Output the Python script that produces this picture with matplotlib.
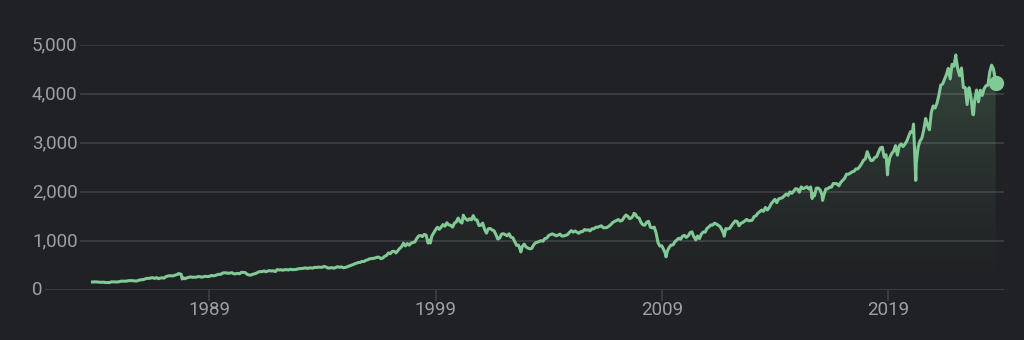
import numpy as np
import matplotlib
matplotlib.use('Agg')
import matplotlib.pyplot as plt
from matplotlib.colors import LinearSegmentedColormap
from matplotlib.transforms import blended_transform_factory

# S&P 500 month-end closes, Oct 1983 .. Sep 2023
first_year, first_month = 1983, 10
monthly_close = [
    163.6, 166.4, 164.9,
    163.4, 157.1, 159.2, 160.1, 150.6, 153.2, 150.7, 166.7, 166.1, 166.1, 163.6, 167.2,
    179.6, 181.2, 180.7, 179.8, 189.6, 191.9, 190.9, 188.6, 182.1, 189.8, 202.2, 211.3,
    211.8, 226.9, 238.9, 235.5, 247.4, 250.8, 236.1, 252.9, 231.3, 244.0, 249.2, 242.2,
    274.1, 284.2, 291.7, 288.4, 290.1, 304.0, 318.7, 329.8, 321.8, 251.8, 230.3, 247.1,
    257.1, 267.8, 258.9, 261.3, 262.2, 273.5, 272.0, 261.5, 271.9, 279.0, 273.7, 277.7,
    297.5, 288.9, 294.9, 309.6, 320.5, 318.0, 346.1, 351.5, 349.2, 340.4, 346.0, 353.4,
    329.1, 331.9, 339.9, 330.8, 361.2, 358.0, 356.2, 322.6, 306.1, 304.0, 322.2, 330.2,
    343.9, 367.1, 375.2, 375.3, 389.8, 371.2, 387.8, 395.4, 387.9, 392.5, 375.2, 417.1,
    408.8, 412.7, 403.7, 414.9, 415.4, 408.1, 424.2, 414.0, 417.8, 418.7, 431.4, 435.7,
    438.8, 443.4, 451.7, 440.2, 450.2, 450.5, 448.1, 463.6, 458.9, 467.8, 461.8, 466.5,
    481.6, 467.1, 445.8, 450.9, 456.5, 444.3, 458.3, 475.5, 462.7, 472.4, 453.7, 459.3,
    470.4, 487.4, 500.7, 514.7, 533.4, 544.8, 562.1, 561.9, 584.4, 581.5, 605.4, 615.9,
    636.0, 640.4, 645.5, 654.2, 669.1, 670.6, 640.0, 652.0, 687.3, 705.3, 757.0, 740.7,
    786.2, 790.8, 757.1, 801.3, 848.3, 885.1, 954.3, 899.5, 947.3, 914.6, 955.4, 970.4,
    980.3, 1049.3, 1101.8, 1111.8, 1090.8, 1133.8, 1120.7, 957.3, 1017.0, 1098.7, 1163.6, 1229.2,
    1279.6, 1238.3, 1286.4, 1335.2, 1301.8, 1372.7, 1328.7, 1320.4, 1282.7, 1362.9, 1388.9, 1469.3,
    1394.5, 1366.4, 1498.6, 1452.4, 1420.6, 1454.6, 1430.8, 1517.7, 1436.5, 1429.4, 1315.2, 1320.3,
    1366.0, 1239.9, 1160.3, 1249.5, 1255.8, 1224.4, 1211.2, 1133.6, 1040.9, 1059.8, 1139.5, 1148.1,
    1130.2, 1106.7, 1147.4, 1076.9, 1067.1, 989.8, 911.6, 916.1, 815.3, 885.8, 936.3, 879.8,
    855.7, 841.2, 848.2, 916.9, 963.6, 974.5, 990.3, 1008.0, 996.0, 1050.7, 1058.2, 1111.9,
    1131.1, 1144.9, 1126.2, 1107.3, 1120.7, 1140.8, 1101.7, 1104.2, 1114.6, 1130.2, 1173.8, 1211.9,
    1181.3, 1203.6, 1180.6, 1156.9, 1191.5, 1191.3, 1234.2, 1220.3, 1228.8, 1207.0, 1249.5, 1248.3,
    1280.1, 1280.7, 1294.9, 1310.6, 1270.1, 1270.2, 1276.7, 1303.8, 1335.9, 1377.9, 1400.6, 1418.3,
    1438.2, 1406.8, 1420.9, 1482.4, 1530.6, 1503.4, 1455.3, 1474.0, 1526.8, 1549.4, 1481.1, 1468.4,
    1378.6, 1330.6, 1322.7, 1385.6, 1400.4, 1280.0, 1267.4, 1282.8, 1166.4, 968.8, 896.2, 903.3,
    825.9, 735.1, 797.9, 872.8, 919.1, 919.3, 987.5, 1020.6, 1057.1, 1036.2, 1095.6, 1115.1,
    1073.9, 1104.5, 1169.4, 1186.7, 1089.4, 1030.7, 1101.6, 1049.3, 1141.2, 1183.3, 1180.6, 1257.6,
    1286.1, 1327.2, 1325.8, 1363.6, 1345.2, 1320.6, 1292.3, 1218.9, 1131.4, 1253.3, 1247.0, 1257.6,
    1312.4, 1365.7, 1408.5, 1397.9, 1310.3, 1362.2, 1379.3, 1406.6, 1440.7, 1412.2, 1416.2, 1426.2,
    1498.1, 1514.7, 1569.2, 1597.6, 1630.7, 1606.3, 1685.7, 1633.0, 1681.6, 1756.5, 1805.8, 1848.4,
    1782.6, 1859.5, 1872.3, 1884.0, 1923.6, 1960.2, 1930.7, 2003.4, 1972.3, 2018.1, 2067.6, 2058.9,
    1995.0, 2104.5, 2067.9, 2085.5, 2107.4, 2063.1, 2103.8, 1972.2, 1920.0, 2079.4, 2080.4, 2043.9,
    1940.2, 1932.2, 2059.7, 2065.3, 2097.0, 2098.9, 2173.6, 2171.0, 2168.3, 2126.2, 2198.8, 2238.8,
    2278.9, 2363.6, 2362.7, 2384.2, 2411.8, 2423.4, 2470.3, 2471.7, 2519.4, 2575.3, 2647.6, 2673.6,
    2823.8, 2713.8, 2640.9, 2648.1, 2705.3, 2718.4, 2816.3, 2901.5, 2914.0, 2711.7, 2760.2, 2506.9,
    2704.1, 2784.5, 2834.4, 2945.8, 2752.1, 2941.8, 2980.4, 2926.5, 2976.7, 3037.6, 3141.0, 3230.8,
    3225.5, 2954.2, 2584.6, 2912.4, 3044.3, 3100.3, 3271.1, 3500.3, 3363.0, 3270.0, 3621.6, 3756.1,
    3714.2, 3811.2, 3972.9, 4181.2, 4204.1, 4297.5, 4395.3, 4522.7, 4307.5, 4605.4, 4567.0, 4766.2,
    4515.6, 4373.9, 4530.4, 4131.9, 4132.2, 3785.4, 4130.3, 3955.0, 3585.6, 3872.0, 4080.1, 3839.5,
    4076.6, 3970.2, 4109.3, 4169.5, 4179.8, 4450.4, 4589.0, 4507.7, 4288.1,
]

# intra-month highs/lows worth showing (decimal year, close)
extreme_dates = [1987.65, 1987.80, 1998.77, 2000.23, 2002.77, 2007.77, 2009.19,
                 2010.50, 2011.76, 2015.65, 2016.11, 2018.98, 2020.13, 2020.23,
                 2022.00, 2022.78, 2023.76]
extreme_values = [336.8, 224.8, 959.4, 1527.5, 776.8, 1565.2, 676.5,
                  1022.6, 1099.2, 1867.6, 1829.1, 2351.1, 3386.2, 2237.4,
                  4796.6, 3577.0, 4229.5]

y_ticks = [0, 1000, 2000, 3000, 4000, 5000]
y_tick_labels = ['0', '1,000', '2,000', '3,000', '4,000', '5,000']
x_ticks = [1989, 1999, 2009, 2019]

BG = '#202124'
GRID = '#3c4043'
TEXT = '#9aa0a6'
LINE = '#81c995'

month_x = first_year + (first_month - 1 + np.arange(1, len(monthly_close) + 1)) / 12.0
x = np.concatenate([month_x, extreme_dates])
y = np.concatenate([monthly_close, extreme_values])
order = np.argsort(x)
x, y = x[order], y[order]

W, H = 1024, 340
fig = plt.figure(figsize=(W / 100, H / 100), dpi=100, facecolor=BG)
ax = fig.add_axes([32 / W, (H - 290) / H, (1004 - 32) / W, 245 / H])
ax.set_facecolor(BG)
ax.set_xlim(1981.16, 2024.13)
ax.set_ylim(0, 5000)
for s in ax.spines.values():
    s.set_visible(False)
ax.set_xticks([])
ax.set_yticks([])

# gradient fill under the line
cmap = LinearSegmentedColormap.from_list('fade', [(0.506, 0.788, 0.584, 0.0), (0.506, 0.788, 0.584, 0.24)])
grad = np.linspace(0, 1, 256).reshape(-1, 1) ** 1.3
img = ax.imshow(grad, cmap=cmap, aspect='auto', origin='lower',
                extent=[x[0], x[-1], 0, 5000], zorder=1)
poly = ax.fill_between(x, y, 0, color='none', lw=0)
img.set_clip_path(poly.get_paths()[0], transform=ax.transData)

# y labels and gridlines starting just after each label
fig.canvas.draw()
renderer = fig.canvas.get_renderer()
trans = blended_transform_factory(ax.transAxes, ax.transData)
inv = ax.transAxes.inverted()
for v, lab in zip(y_ticks, y_tick_labels):
    t = ax.text(0, v, lab, transform=trans, ha='left', va='center',
                color=TEXT, fontsize=13.5, family=['Roboto', 'DejaVu Sans'])
    bb = t.get_window_extent(renderer)
    x0 = inv.transform((bb.x1 + 3, 0))[0]
    ax.plot([x0, 1], [v, v], transform=trans, color=GRID, lw=1.3, zorder=0.5)

# x ticks
xtrans = blended_transform_factory(ax.transData, ax.transAxes)
for yr in x_ticks:
    ax.plot([yr, yr], [0, -10 / 245], transform=xtrans, color=GRID, lw=1.3, clip_on=False)
    ax.text(yr, -20 / 245, str(yr), transform=xtrans, ha='center', va='center',
            color=TEXT, fontsize=13.5, family=['Roboto', 'DejaVu Sans'])

ax.plot(x, y, color=LINE, lw=2.2, zorder=3, solid_joinstyle='round')
ax.plot(x[-1], y[-1], 'o', color=LINE, ms=10, zorder=4)

fig.savefig('out.png', dpi=100, facecolor=BG)
